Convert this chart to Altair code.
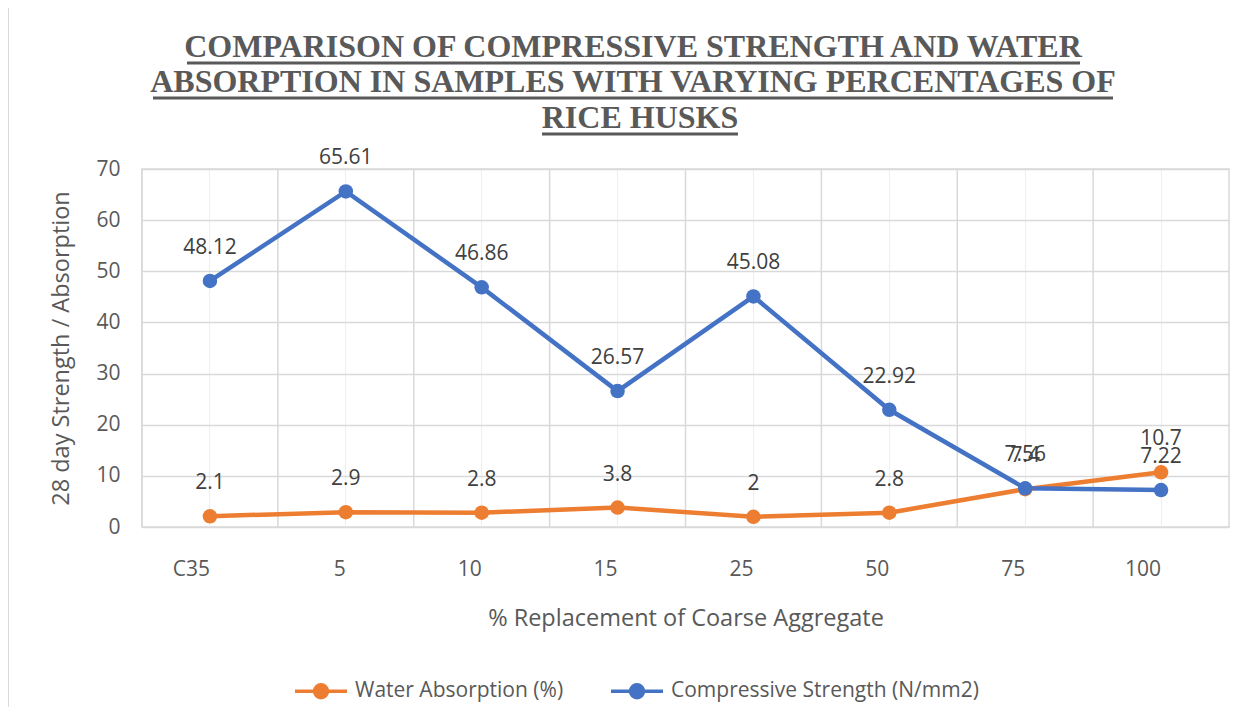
import altair as alt
import pandas as pd

categories = ["C35", "5", "10", "15", "25", "50", "75", "100"]
water_absorption = [2.1, 2.9, 2.8, 3.8, 2.0, 2.8, 7.4, 10.7]
compressive_strength = [48.12, 65.61, 46.86, 26.57, 45.08, 22.92, 7.56, 7.22]
series_names = ["Water Absorption (%)", "Compressive Strength (N/mm2)"]
series_colors = ["#ED7D31", "#4472C4"]
title_lines = [
    "COMPARISON OF COMPRESSIVE STRENGTH AND WATER",
    "ABSORPTION IN SAMPLES WITH VARYING PERCENTAGES OF",
    "RICE HUSKS",
]

rows = []
for c, w, s in zip(categories, water_absorption, compressive_strength):
    rows.append({"cat": c, "series": series_names[0], "value": w})
    rows.append({"cat": c, "series": series_names[1], "value": s})
df = pd.DataFrame(rows)
cat_df = pd.DataFrame({"cat": categories})

FONT = "Open Sans"
GREY = "#595959"
W, H = 1087, 358

xscale = alt.Scale(type="band", domain=categories, paddingInner=0, paddingOuter=0)
yscale = alt.Scale(domain=[0, 70], nice=False)
color_scale = alt.Scale(domain=series_names, range=series_colors)

xaxis = alt.Axis(
    title="% Replacement of Coarse Aggregate", labelAngle=0, grid=True,
    gridColor="#EFEFEF", gridWidth=1.2, ticks=False, domain=False,
    labelPadding=42, titlePadding=27, labelFontSize=21, titleFontSize=23.5,
)
yaxis = alt.Axis(
    title="28 day Strength / Absorption", values=list(range(0, 71, 10)),
    grid=True, gridColor="#D9D9D9", gridWidth=1.5, ticks=False, domain=False,
    labelPadding=22, titlePadding=22, labelFontSize=21, titleFontSize=23.5,
)

base_x = alt.X("cat:N", scale=xscale, axis=xaxis, sort=categories, bandPosition=0.5)
base_y = alt.Y("value:Q", scale=yscale, axis=yaxis)

# boundary gridlines
bounds = alt.Chart(cat_df).mark_rule(color="#D9D9D9", strokeWidth=1.5).encode(
    x=alt.X("cat:N", scale=xscale, sort=categories, bandPosition=0),
)

lines = alt.Chart(df).mark_line(strokeWidth=4.5).encode(
    x=base_x, y=base_y,
    stroke=alt.Stroke("series:N", scale=color_scale, legend=alt.Legend(title=None)),
    detail="series:N",
)

legend_path = "M-1,0H1M-0.25,0A0.25,0.25,0,1,1,0.25,0A0.25,0.25,0,1,1,-0.25,0Z"
pts = alt.Chart(df).mark_point(filled=True, size=210, opacity=1).encode(
    x=base_x, y=base_y,
    fill=alt.Fill("series:N", scale=color_scale, legend=alt.Legend(title=None)),
)

labels = alt.Chart(df).mark_text(
    fontSize=21, font=FONT, color="#404040", dy=-33, baseline="middle", align="center"
).encode(x=base_x, y=base_y, text=alt.Text("value:Q"))

one = pd.DataFrame({"k": [0]})
title_layers = []
title_y = [-112, -77, -41]
title_x = [491, 491, 498]
for t, tx, ty in zip(title_lines, title_x, title_y):
    title_layers.append(
        alt.Chart(one).mark_text(
            text=t, font="Liberation Serif", fontWeight="bold", fontSize=32,
            color=GREY, align="center", baseline="alphabetic",
        ).encode(x=alt.value(tx), y=alt.value(ty))
    )

underline_spans = [(45, 938), (11, 971), (400, 596)]
under_y = [-106, -71, -35]
for (x1, x2), uy in zip(underline_spans, under_y):
    title_layers.append(
        alt.Chart(one).mark_rule(color=GREY, strokeWidth=3).encode(
            x=alt.value(x1), x2=alt.value(x2), y=alt.value(uy)
        )
    )

border = [
    alt.Chart(one).mark_rule(color="#D9D9D9", strokeWidth=2).encode(
        x=alt.value(-134), y=alt.value(-163), y2=alt.value(560)),
    alt.Chart(one).mark_rule(color="#D9D9D9", strokeWidth=2).encode(
        x=alt.value(-134), x2=alt.value(1110), y=alt.value(-163)),
]

chart = alt.layer(
    bounds, lines, pts, labels, *title_layers, *border
).resolve_scale(fill="shared", stroke="shared").properties(
    width=W, height=H,
    autosize=alt.AutoSizeParams(type="none"),
    padding={"left": 134, "top": 161, "right": 10, "bottom": 180},
).configure_view(
    stroke="#D9D9D9", strokeWidth=1.5
).configure_axis(
    labelFont=FONT, titleFont=FONT, labelColor=GREY, titleColor=GREY,
    titleFontWeight="normal",
).configure_legend(
    orient="none", legendX=151, legendY=494, direction="horizontal",
    symbolType=legend_path, symbolSize=2704, symbolStrokeWidth=3.5,
    labelFont=FONT, labelFontSize=21, labelColor=GREY, labelOffset=6,
    labelLimit=0, columnPadding=40, padding=0,
)

chart.save("out.html", embed_options={"renderer": "svg", "actions": False})
